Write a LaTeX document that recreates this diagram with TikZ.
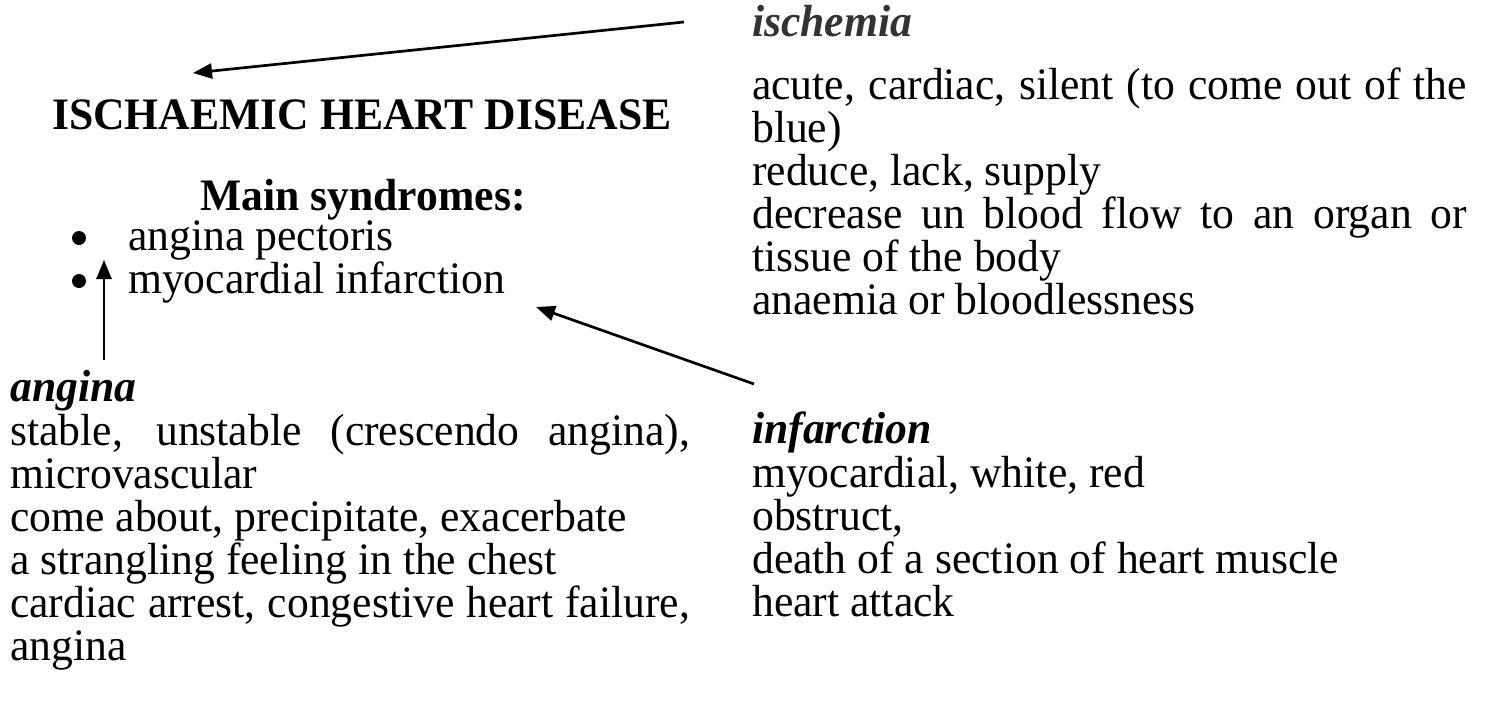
\documentclass[tikz,border=0pt]{standalone}
\usepackage{fontspec}
\setmainfont{Liberation Serif}
\usetikzlibrary{arrows.meta}
\newcommand\hsc[1]{\scalebox{0.97}[1]{#1}}
\begin{document}
\begin{tikzpicture}[x=1pt,y=-1pt,
  bodytxt/.style={anchor=base west, inner sep=0pt, font=\fontsize{45}{50}\selectfont},
  headtxt/.style={anchor=base west, inner sep=0pt, font=\fontsize{45}{50}\selectfont\bfseries\itshape},
  titletxt/.style={anchor=base west, inner sep=0pt, font=\fontsize{45}{50}\selectfont\bfseries},
  dotmark/.style={circle, fill=black, inner sep=0pt, minimum size=14pt},
  arr/.style={line width=2.7pt, -{Triangle[length=19pt,width=15pt]}}]
\useasboundingbox (0,0) rectangle (1485,704);
% left top
\node[titletxt] (title) at (52,129) {\hsc{ISCHAEMIC HEART DISEASE}};
\node[titletxt] (main) at (200,210) {\hsc{Main syndromes:}};
\node[dotmark] (b1) at (79,238) {};
\node[bodytxt] (l1) at (128,250) {\hsc{angina pectoris}};
\node[dotmark] (b2) at (79,281) {};
\node[bodytxt] (l2) at (128,293) {\hsc{myocardial infarction}};
% right top
\node[headtxt, text=black!80] (isch) at (752,36) {\hsc{ischemia}};
\node[bodytxt] (r1) at (752,99) {\hsc{\makebox[737pt][s]{acute, cardiac, silent (to come out of the}}};
\node[bodytxt] (r2) at (752,142) {\hsc{blue)}};
\node[bodytxt] (r3) at (752,185) {\hsc{reduce, lack, supply}};
\node[bodytxt] (r4) at (752,228) {\hsc{\makebox[737pt][s]{decrease un blood flow to an organ or}}};
\node[bodytxt] (r5) at (752,271) {\hsc{tissue of the body}};
\node[bodytxt] (r6) at (752,314) {\hsc{anaemia or bloodlessness}};
% left bottom
\node[headtxt] (ang) at (10,401) {\hsc{angina}};
\node[bodytxt] (a1) at (10,445) {\hsc{\makebox[701pt][s]{stable, unstable (crescendo angina),}}};
\node[bodytxt] (a2) at (10,488) {\hsc{microvascular}};
\node[bodytxt] (a3) at (10,531) {\hsc{come about, precipitate, exacerbate}};
\node[bodytxt] (a4) at (10,574) {\hsc{a strangling feeling in the chest}};
\node[bodytxt] (a5) at (10,617) {\hsc{\makebox[701pt][s]{cardiac arrest, congestive heart failure,}}};
\node[bodytxt] (a6) at (10,660) {\hsc{angina}};
% right bottom
\node[headtxt] (inf) at (752,443) {\hsc{infarction}};
\node[bodytxt] (i1) at (752,487) {\hsc{myocardial, white, red}};
\node[bodytxt] (i2) at (752,530) {\hsc{obstruct,}};
\node[bodytxt] (i3) at (752,573) {\hsc{death of a section of heart muscle}};
\node[bodytxt] (i4) at (752,616) {\hsc{heart attack}};
% arrows
\coordinate (p1s) at (684,22);
\coordinate (p1e) at (193,73);
\coordinate (p2s) at (104,360);
\coordinate (p2e) at (104,260);
\coordinate (p3s) at (754,384);
\coordinate (p3e) at (536,307);
\draw[arr] (p1s) -- (p1e);
\draw[arr] (p2s) -- (p2e);
\draw[arr] (p3s) -- (p3e);
\end{tikzpicture}
\end{document}
